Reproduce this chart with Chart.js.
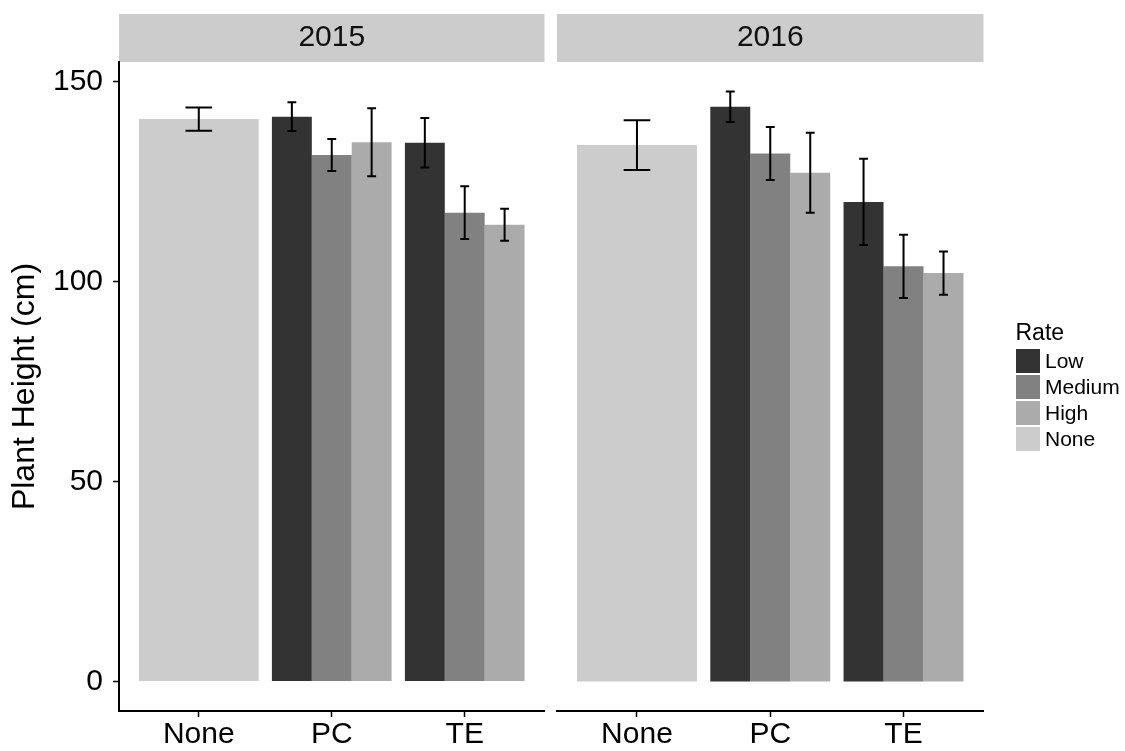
<!DOCTYPE html>
<html>
<head>
<meta charset="utf-8">
<title>Plant Height by Treatment and Rate</title>
<script src="https://cdn.jsdelivr.net/npm/chart.js@4.4.1/dist/chart.umd.min.js"></script>
<style>
  html, body { margin: 0; padding: 0; background: #ffffff; }
  #wrap { position: relative; width: 1125px; height: 751px; overflow: hidden;
          font-family: "Liberation Sans", Arial, Helvetica, sans-serif; }
  #wrap canvas { position: absolute; top: 0; }
  #legend { position: absolute; left: 1015.5px; top: 318px; color: #000; }
  #legend .legend-title { font-size: 23px; line-height: 28px; margin-bottom: 1.5px; }
  #legend .legend-row { display: flex; align-items: center; height: 26px; }
  #legend .legend-key { width: 24px; height: 24px; margin-right: 5.5px; }
  #legend .legend-label { font-size: 21px; line-height: 24px; }
</style>
</head>
<body>
<div id="wrap">
  <canvas id="panel2015" width="551" height="751" style="left:0px"></canvas>
  <canvas id="panel2016" width="574" height="751" style="left:551px"></canvas>
  <div id="legend"></div>
</div>
<script>
// Treatments on the x axis, fill groups and their greys
const treatments = ['None', 'PC', 'TE'];
const years = ['2015', '2016'];
const rates = ['Low', 'Medium', 'High', 'None'];
const rateColors = ['#333333', '#818181', '#ababab', '#cccccc'];
const yTicks = [0, 50, 100, 150];

// 2015: mean plant height (cm) and standard error per treatment
const low2015 = [null, 141.2, 134.7];
const lowSe2015 = [null, 3.6, 6.2];
const medium2015 = [null, 131.6, 117.2];
const mediumSe2015 = [null, 4.0, 6.6];
const high2015 = [null, 134.8, 114.2];
const highSe2015 = [null, 8.5, 4.0];
const none2015 = [140.6, null, null];
const noneSe2015 = [2.9, null, null];

// 2016: mean plant height (cm) and standard error per treatment
const low2016 = [null, 143.7, 119.9];
const lowSe2016 = [null, 3.8, 10.8];
const medium2016 = [null, 132.0, 103.8];
const mediumSe2016 = [null, 6.6, 7.9];
const high2016 = [null, 127.2, 102.1];
const highSe2016 = [null, 10.0, 5.4];
const none2016 = [134.1, null, null];
const noneSe2016 = [6.2, null, null];

const FONT = '"Liberation Sans", Arial, Helvetica, sans-serif';
// Discrete axis padding of 0.6 category on each side, y padding of 5% of the data range
const DISCRETE_EXPAND = 0.6;
const BAR_WIDTH = 0.9;
const ERRORBAR_WIDTH = 0.2;

// Category scale whose outer padding is DISCRETE_EXPAND instead of half a category
class ExpandedCategoryScale extends Chart.CategoryScale {
  buildTicks() {
    const ticks = super.buildTicks();
    this._startValue = this.min - DISCRETE_EXPAND;
    this._valueRange = (this.max - this.min) + 2 * DISCRETE_EXPAND;
    return ticks;
  }
}
ExpandedCategoryScale.id = 'expandedCategory';
ExpandedCategoryScale.defaults = Chart.CategoryScale.defaults;
Chart.register(ExpandedCategoryScale);

// Grey facet strip behind the panel title
const facetStrip = {
  id: 'facetStrip',
  beforeDraw(chart) {
    const b = chart.titleBlock;
    if (!b) return;
    const ctx = chart.ctx;
    ctx.save();
    ctx.fillStyle = '#cccccc';
    ctx.fillRect(b.left, b.top, b.width, b.height);
    ctx.restore();
  }
};

// Mean ± SE whiskers on each bar
const errorBars = {
  id: 'errorBars',
  afterDatasetsDraw(chart) {
    const ctx = chart.ctx;
    const yScale = chart.scales.y;
    chart.data.datasets.forEach((ds, i) => {
      const meta = chart.getDatasetMeta(i);
      meta.data.forEach((bar, j) => {
        const v = ds.data[j];
        const se = ds.errorBars[j];
        if (v == null || se == null) return;
        const {x, width} = bar.getProps(['x', 'width'], true);
        const half = width * (ERRORBAR_WIDTH / BAR_WIDTH) / 2;
        const top = yScale.getPixelForValue(v + se);
        const bot = yScale.getPixelForValue(v - se);
        ctx.save();
        ctx.strokeStyle = '#000000';
        ctx.lineWidth = 2;
        ctx.beginPath();
        ctx.moveTo(x, top); ctx.lineTo(x, bot);
        ctx.moveTo(x - half, top); ctx.lineTo(x + half, top);
        ctx.moveTo(x - half, bot); ctx.lineTo(x + half, bot);
        ctx.stroke();
        ctx.restore();
      });
    });
  }
};

const allMeans = [
  low2015, medium2015, high2015, none2015, low2016, medium2016, high2016, none2016
];
const allSe = [
  lowSe2015, mediumSe2015, highSe2015, noneSe2015, lowSe2016, mediumSe2016, highSe2016, noneSe2016
];
let dataMax = 0;
allMeans.forEach((arr, k) => arr.forEach((v, j) => {
  if (v != null) dataMax = Math.max(dataMax, v + (allSe[k][j] || 0));
}));
const yMin = 0 - 0.05 * dataMax;
const yMax = dataMax + 0.05 * dataMax;

function makePanel(canvasId, year, series, errors, showY, padding) {
  const datasets = rates.map((rate, i) => ({
    label: rate,
    data: series[i],
    errorBars: errors[i],
    backgroundColor: rateColors[i],
    borderWidth: 0,
    barPercentage: 1.0,
    categoryPercentage: BAR_WIDTH,
    skipNull: true
  }));

  return new Chart(document.getElementById(canvasId), {
    type: 'bar',
    data: { labels: treatments, datasets },
    options: {
      responsive: false,
      animation: false,
      devicePixelRatio: 1,
      layout: { padding },
      plugins: {
        legend: { display: false },
        tooltip: { enabled: false },
        title: {
          display: true,
          text: year,
          fullSize: false,
          color: '#111111',
          font: { family: FONT, size: 30, weight: 'normal', lineHeight: 1.2 },
          padding: { top: 6, bottom: 6 }
        }
      },
      scales: {
        x: {
          type: 'expandedCategory',
          offset: true,
          afterFit: s => { s.height = 40; },
          border: { display: true, color: '#000000', width: 2 },
          grid: { offset: false, drawOnChartArea: false, drawTicks: true,
                  tickLength: 6, tickColor: '#000000', tickWidth: 1.5 },
          ticks: { color: '#000000', padding: 0, autoSkip: false, maxRotation: 0,
                   font: { family: FONT, size: 30 } }
        },
        y: {
          type: 'linear',
          display: showY,
          min: yMin,
          max: yMax,
          afterBuildTicks: s => { s.ticks = yTicks.map(v => ({ value: v })); },
          afterFit: s => { s.width = showY ? 119 : 0; },
          border: { display: true, color: '#000000', width: 2 },
          grid: { drawOnChartArea: false, drawTicks: true,
                  tickLength: 6, tickColor: '#000000', tickWidth: 1.5 },
          ticks: { color: '#000000', padding: 10, font: { family: FONT, size: 30 } },
          title: {
            display: true,
            text: 'Plant Height (cm)',
            color: '#000000',
            font: { family: FONT, size: 32 },
            padding: { top: 6, bottom: 0 }
          }
        }
      }
    },
    plugins: [facetStrip, errorBars]
  });
}

makePanel('panel2015', years[0],
  [low2015, medium2015, high2015, none2015],
  [lowSe2015, mediumSe2015, highSe2015, noneSe2015],
  true, { top: 14, left: 0, right: 6.5, bottom: 0 });

makePanel('panel2016', years[1],
  [low2016, medium2016, high2016, none2016],
  [lowSe2016, mediumSe2016, highSe2016, noneSe2016],
  false, { top: 14, left: 6, right: 141.5, bottom: 0 });

// Fill legend
const legendEl = document.getElementById('legend');
const legendTitle = document.createElement('div');
legendTitle.className = 'legend-title';
legendTitle.textContent = 'Rate';
legendEl.appendChild(legendTitle);
rates.forEach((rate, i) => {
  const row = document.createElement('div');
  row.className = 'legend-row';
  const key = document.createElement('span');
  key.className = 'legend-key';
  key.style.background = rateColors[i];
  const label = document.createElement('span');
  label.className = 'legend-label';
  label.textContent = rate;
  row.appendChild(key);
  row.appendChild(label);
  legendEl.appendChild(row);
});
</script>
</body>
</html>
